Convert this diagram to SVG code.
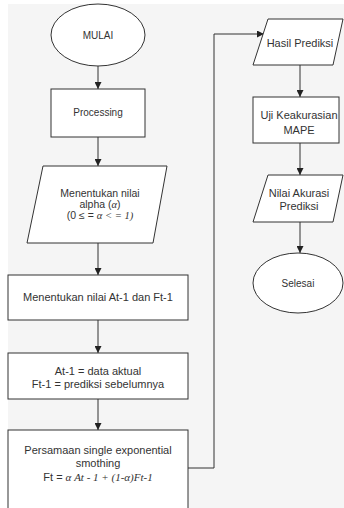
<svg xmlns="http://www.w3.org/2000/svg" width="344" height="508" viewBox="0 0 344 508">
<defs>
<marker id="ah" viewBox="0 0 8 8" refX="8" refY="4" markerWidth="7" markerHeight="7" markerUnits="userSpaceOnUse" orient="auto">
<path d="M0,0 L8,4 L0,8 Z" fill="#222"/>
</marker>
<style>
.s{fill:#fff;stroke:#333;stroke-width:1}
.t{font-family:"Liberation Sans",Arial,sans-serif;font-size:11px;fill:#333;text-anchor:middle}
.m{font-family:"Liberation Serif","Times New Roman",serif;font-style:italic}
.c{fill:none;stroke:#333;stroke-width:1}
</style>
</defs>
<rect x="0" y="0" width="344" height="508" fill="#fff"/>
<rect x="8" y="4" width="336" height="504" fill="#f5f5f5"/>
<g id="connectors">
<line class="c" x1="98" y1="66" x2="98" y2="89" marker-end="url(#ah)"/>
<line class="c" x1="98" y1="137" x2="98" y2="166" marker-end="url(#ah)"/>
<line class="c" x1="98" y1="243" x2="98" y2="275" marker-end="url(#ah)"/>
<line class="c" x1="98" y1="320" x2="98" y2="353" marker-end="url(#ah)"/>
<line class="c" x1="98" y1="399" x2="98" y2="430" marker-end="url(#ah)"/>
<polyline class="c" points="188,468 214,468 214,34 264,34" marker-end="url(#ah)"/>
<line class="c" x1="300" y1="65" x2="300" y2="97" marker-end="url(#ah)"/>
<line class="c" x1="300" y1="143" x2="300" y2="175" marker-end="url(#ah)"/>
<line class="c" x1="300" y1="222" x2="300" y2="253" marker-end="url(#ah)"/>
</g>
<g id="mulai">
<ellipse class="s" cx="98" cy="35" rx="47" ry="31"/>
<text class="t" x="98" y="39" style="font-size:10px">MULAI</text>
</g>
<g id="processing">
<rect class="s" x="51" y="89" width="94" height="48"/>
<text class="t" x="98" y="116" style="font-size:10px">Processing</text>
</g>
<g id="alpha">
<polygon class="s" points="43,166 167,166 153,243 27,243"/>
<text class="t" x="100" y="197" style="font-size:10.5px">Menentukan nilai</text>
<text class="t" x="100" y="208" style="font-size:10.5px">alpha (<tspan class="m">α</tspan>)</text>
<text class="t" x="100" y="219" style="font-size:10.5px">(0 ≤ = <tspan class="m">α &lt; = 1)</tspan></text>
</g>
<g id="nilai">
<rect class="s" x="8" y="275" width="180" height="45"/>
<text class="t" x="98" y="301">Menentukan nilai At-1 dan Ft-1</text>
</g>
<g id="data">
<rect class="s" x="8" y="353" width="180" height="46"/>
<text class="t" x="98" y="375">At-1 = data aktual</text>
<text class="t" x="98" y="388">Ft-1 = prediksi sebelumnya</text>
</g>
<g id="persamaan">
<rect class="s" x="8" y="430" width="180" height="90"/>
<text class="t" x="98" y="454">Persamaan single exponential</text>
<text class="t" x="98" y="467">smothing</text>
<text class="t" x="98" y="481">Ft = <tspan class="m">α At - 1 + (1-α)Ft-1</tspan></text>
</g>
<g id="hasil">
<polygon class="s" points="268,19 343,19 333,65 253,65"/>
<text class="t" x="300" y="47">Hasil Prediksi</text>
</g>
<g id="uji">
<rect class="s" x="253" y="97" width="86" height="46"/>
<text class="t" x="299" y="119">Uji Keakurasian</text>
<text class="t" x="299" y="134">MAPE</text>
</g>
<g id="akurasi">
<polygon class="s" points="268,175 343,175 333,222 253,222"/>
<text class="t" x="299" y="197">Nilai Akurasi</text>
<text class="t" x="299" y="210">Prediksi</text>
</g>
<g id="selesai">
<ellipse class="s" cx="298" cy="283" rx="45" ry="30"/>
<text class="t" x="298" y="287" style="font-size:10px">Selesai</text>
</g>
</svg>
